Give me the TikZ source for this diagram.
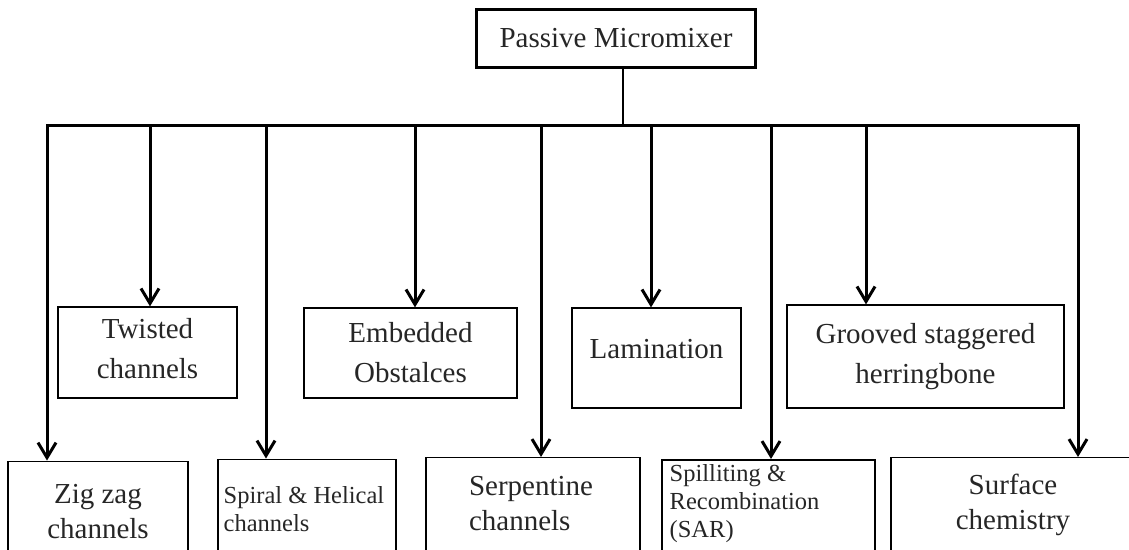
\documentclass[tikz,border=0pt]{standalone}
\usepackage{fontspec}
\setmainfont{Liberation Serif}
\usetikzlibrary{arrows.meta,positioning}
\begin{document}
\begin{tikzpicture}[x=1pt,y=-1pt,line width=1.2pt,
  every node/.style={inner sep=0pt,text=black!85,font=\fontsize{29}{40}\selectfont},
  drop/.style={line width=3pt,line join=miter,-{Straight Barb[length=15pt,width=18pt]}},
  rootbox/.style={draw,line width=3pt,minimum width=279pt,minimum height=58pt},
  topbox/.style={draw,align=center,line width=1.2pt},
  lowbox/.style={draw,anchor=north,minimum height=130pt,line width=1.2pt},
  txt/.style={align=center,font=\fontsize{29}{35}\selectfont},
  smalltxt/.style={align=left,anchor=north west,font=\fontsize{24.5}{28}\selectfont}]
\clip (0,0) rectangle (1129,549);
% root
\node[rootbox] (root) at (616,38) {Passive Micromixer};
% upper row
\node[topbox,minimum width=179pt,minimum height=91pt,text depth=8pt] (twisted) at (147.5,352.5) {Twisted\\channels};
\node[topbox,minimum width=213pt,minimum height=90pt] (embedded) at (410.5,353) {Embedded\\Obstalces};
\node[topbox,minimum width=169pt,minimum height=100pt,text depth=18pt] (lamination) at (656.5,358) {Lamination};
\node[topbox,minimum width=277pt,minimum height=103pt] (grooved) at (925.5,356.5) {Grooved staggered\\herringbone};
% lower row
\node[lowbox,minimum width=180pt] (zigzag) at (98,460.5) {};
\node[lowbox,minimum width=178pt,line width=1.8pt] (spiral) at (307,458.5) {};
\node[lowbox,minimum width=214pt] (serpentine) at (533,457) {};
\node[lowbox,minimum width=213pt,line width=1.8pt] (sar) at (768.5,459) {};
\node[lowbox,minimum width=244pt] (surface) at (1013,457) {};
\node[txt,below=23pt of zigzag.north] {Zig zag\\channels};
\node[smalltxt,below right=27pt and 6pt of spiral.north west] {Spiral \& Helical\\channels};
\node[txt,align=left,below right=19pt and 43pt of serpentine.north west] {Serpentine\\channels};
\node[smalltxt,below right=5pt and 8pt of sar.north west] {Spilliting \&\\Recombination\\(SAR)};
\node[txt,below=16pt of surface.north] {Surface\\chemistry};
% bar and drops
\coordinate (j) at (623,125);
\foreach \n/\x in {1/47,2/150,3/266,4/415,5/541,6/651,7/771,8/866,9/1078}
  \coordinate (b\n) at (\x,125);
\draw (root.south -| j) -- (j);
\draw[drop,{Straight Barb[length=15pt,width=18pt]}-{Straight Barb[length=15pt,width=18pt]}]
  (zigzag.north -| b1) -- (b1) -- (b9) -- (surface.north -| b9);
\draw[drop] (b2) -- (b2 |- twisted.north);
\draw[drop] (b3) -- (b3 |- spiral.north);
\draw[drop] (b4) -- (b4 |- embedded.north);
\draw[drop] (b5) -- (b5 |- serpentine.north);
\draw[drop] (b6) -- (b6 |- lamination.north);
\draw[drop] (b7) -- (b7 |- sar.north);
\draw[drop] (b8) -- (b8 |- grooved.north);
\end{tikzpicture}
\end{document}
